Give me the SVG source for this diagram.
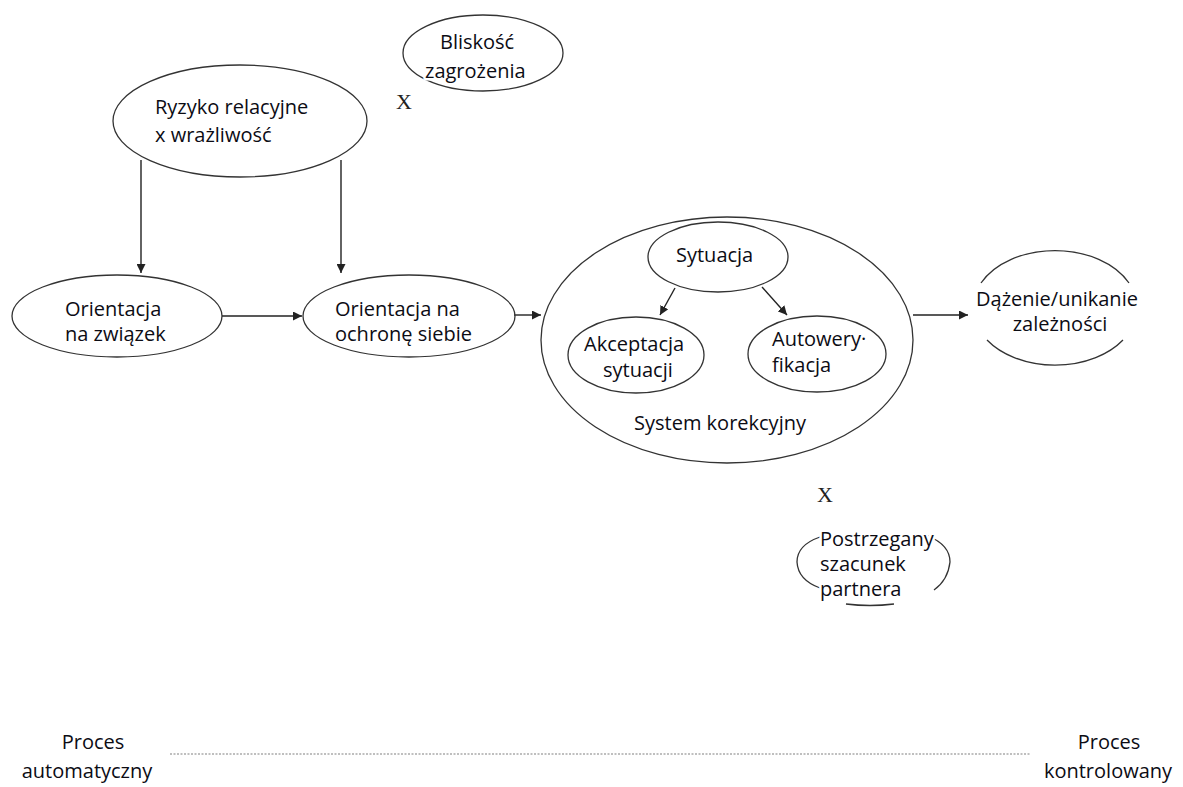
<svg xmlns="http://www.w3.org/2000/svg" width="1183" height="787" viewBox="0 0 1183 787">
<defs>
<marker id="arr" viewBox="0 0 10 10" refX="10" refY="5" markerWidth="9" markerHeight="9" markerUnits="userSpaceOnUse" orient="auto">
<path d="M0,0 L10,5 L0,10 z" fill="#222"/>
</marker>
<style>
.sh{fill:none;stroke:#333;stroke-width:1.3}
.t{font-family:"Open Sans","Noto Sans",sans-serif;font-size:20px;fill:#0c0c14;stroke:#fff;stroke-width:5;paint-order:stroke;stroke-linejoin:round}
.x{font-family:"Liberation Serif",serif;font-size:22px;fill:#222}
.ln{fill:none;stroke:#222;stroke-width:1.4}
</style>
</defs>
<rect width="1183" height="787" fill="#fff"/>
<g id="connectors">
<line class="ln" x1="141" y1="160" x2="141" y2="273" marker-end="url(#arr)"/>
<line class="ln" x1="341" y1="160" x2="341" y2="273" marker-end="url(#arr)"/>
<line class="ln" x1="222" y1="316" x2="302" y2="316" marker-end="url(#arr)"/>
<line class="ln" x1="514" y1="315" x2="541" y2="315" marker-end="url(#arr)"/>
<line class="ln" x1="913" y1="315" x2="968" y2="315" marker-end="url(#arr)"/>
<line class="ln" x1="675" y1="288" x2="660" y2="315" marker-end="url(#arr)"/>
<line class="ln" x1="762" y1="287" x2="787" y2="315" marker-end="url(#arr)"/>
</g>
<g id="ryzyko">
<ellipse class="sh" cx="240" cy="121" rx="127" ry="56"/>
<text class="t" x="155" y="114">Ryzyko relacyjne</text>
<text class="t" x="155" y="142">x wrażliwość</text>
</g>
<g id="bliskosc">
<ellipse class="sh" cx="483" cy="53" rx="80" ry="38"/>
<text class="t" x="440" y="49">Bliskość</text>
<text class="t" x="425" y="78">zagrożenia</text>
</g>
<text class="x" x="396" y="109">X</text>
<g id="orientacja-zwiazek">
<ellipse class="sh" cx="117" cy="316" rx="105" ry="41"/>
<text class="t" x="65" y="316">Orientacja</text>
<text class="t" x="65" y="341">na związek</text>
</g>
<g id="orientacja-ochrona">
<ellipse class="sh" cx="409" cy="316" rx="106" ry="41"/>
<text class="t" x="335" y="316">Orientacja na</text>
<text class="t" x="335" y="341">ochronę siebie</text>
</g>
<g id="system">
<ellipse class="sh" cx="727" cy="340" rx="186" ry="123"/>
<text class="t" x="634" y="430">System korekcyjny</text>
</g>
<g id="sytuacja">
<ellipse class="sh" cx="718" cy="257" rx="70" ry="35"/>
<text class="t" x="676" y="262">Sytuacja</text>
</g>
<g id="akceptacja">
<ellipse class="sh" cx="636" cy="355" rx="68" ry="38"/>
<text class="t" x="584" y="351">Akceptacja</text>
<text class="t" x="603" y="377">sytuacji</text>
</g>
<g id="autoweryfikacja">
<ellipse class="sh" cx="817" cy="354" rx="69" ry="38"/>
<text class="t" x="772" y="346">Autowery·</text>
<text class="t" x="772" y="372">fikacja</text>
</g>
<g id="dazenie">
<path class="sh" d="M981,283 A82,57 0 0 1 1129,283 M987,340 A82,57 0 0 0 1123,340"/>
<text class="t" x="1057" y="306" text-anchor="middle">Dążenie/unikanie</text>
<text class="t" x="1060" y="331" text-anchor="middle">zależności</text>
</g>
<text class="x" x="817" y="502">X</text>
<g id="postrzegany">
<path class="sh" d="M820,537 Q797,545 797,562 Q798,580 820,588 M928,536 Q950,545 950,562 Q948,580 934,590 M846,604 Q870,607 894,604"/>
<text class="t" x="820" y="546">Postrzegany</text>
<text class="t" x="820" y="571">szacunek</text>
<text class="t" x="820" y="596">partnera</text>
</g>
<g id="skala">
<line x1="170" y1="754" x2="1030" y2="754" stroke="#aaa" stroke-width="1.5" stroke-dasharray="2 1.5"/>
<text class="t" x="93" y="749" text-anchor="middle">Proces</text>
<text class="t" x="87" y="778" text-anchor="middle">automatyczny</text>
<text class="t" x="1109" y="749" text-anchor="middle">Proces</text>
<text class="t" x="1108" y="778" text-anchor="middle">kontrolowany</text>
</g>
</svg>
